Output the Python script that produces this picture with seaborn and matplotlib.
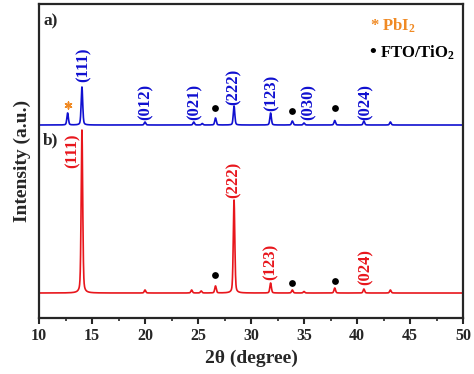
import numpy as np
import pandas as pd
import matplotlib
matplotlib.use('Agg')
import matplotlib.pyplot as plt
import seaborn as sns

# peak positions (2theta) and heights (arbitrary units)
red_pos = [14.05, 20.0, 24.4, 25.3, 26.65, 28.4, 31.85, 33.9, 35.0, 37.9, 40.65, 43.15]
red_height = [163, 3, 3, 2, 7, 93, 10, 3, 1.5, 5, 4, 3]

blue_pos = [12.7, 14.05, 20.0, 24.6, 25.4, 26.65, 28.4, 31.85, 33.9, 35.0, 37.9, 40.65, 43.15]
blue_height = [12, 38, 3, 3, 1.5, 7, 19, 12, 4, 2, 4.5, 4, 3]
blue_offset = 168

# hkl labels: (x, bottom of label)
blue_labels = ['(111)', '(012)', '(021)', '(222)', '(123)', '(030)', '(024)']
blue_label_x = [14.25, 20.05, 24.7, 28.4, 31.9, 35.4, 40.85]
blue_label_y = [211, 173, 173, 188, 182, 173, 173]

red_labels = ['(111)', '(222)', '(123)', '(024)']
red_label_x = [13.2, 28.35, 31.85, 40.85]
red_label_y = [125, 95, 13, 8]

# FTO/TiO2 dots
dot_x = [26.65, 33.9, 37.9, 26.65, 33.9, 37.9]
dot_y = [18, 10, 12, 185, 182, 185]

# PbI2 star
star_x = [12.7]
star_y = [188]

BLUE = '#1010d0'
RED = '#e8161c'
ORANGE = '#f08a24'


def profile(x, pos, height, fwhm=0.17, eta=0.35):
    # pseudo-Voigt peaks, mostly gaussian
    y = np.zeros_like(x)
    g = fwhm / 2
    sigma = fwhm / 2.3548
    for p, h in zip(pos, height):
        lor = g ** 2 / ((x - p) ** 2 + g ** 2)
        gau = np.exp(-(x - p) ** 2 / (2 * sigma ** 2))
        y += h * (eta * lor + (1 - eta) * gau)
    return y


two_theta = np.linspace(10, 50, 4001)
df = pd.concat([
    pd.DataFrame({'two_theta': two_theta,
                  'intensity': profile(two_theta, blue_pos, blue_height) + blue_offset,
                  'sample': 'a'}),
    pd.DataFrame({'two_theta': two_theta,
                  'intensity': profile(two_theta, red_pos, red_height),
                  'sample': 'b'}),
])

sns.set_style('ticks')
plt.rcParams['font.family'] = ['Liberation Serif', 'DejaVu Serif']
plt.rcParams['font.weight'] = 'bold'
plt.rcParams['mathtext.fontset'] = 'custom'
plt.rcParams['mathtext.rm'] = 'Liberation Serif'
plt.rcParams['mathtext.bf'] = 'Liberation Serif:bold'

fig = plt.figure(figsize=(4.74, 3.74), dpi=100)
ax = fig.add_axes([0.0823, 0.1497, 0.8945, 0.8396])

sns.lineplot(data=df, x='two_theta', y='intensity', hue='sample',
             palette={'a': BLUE, 'b': RED}, estimator=None, sort=False,
             linewidth=1.2, legend=False, ax=ax)
sns.scatterplot(x=dot_x, y=dot_y, color='black', s=24, linewidth=0, ax=ax)
sns.scatterplot(x=star_x, y=star_y, color=ORANGE, marker=(6, 2, 0), s=24,
                linewidth=1.1, ax=ax)

for lab, x, y in zip(blue_labels, blue_label_x, blue_label_y):
    ax.text(x, y, lab, rotation=90, ha='center', va='bottom', color=BLUE,
            fontsize=12, fontweight='bold')
for lab, x, y in zip(red_labels, red_label_x, red_label_y):
    ax.text(x, y, lab, rotation=90, ha='center', va='bottom', color=RED,
            fontsize=12, fontweight='bold')

ax.text(0.01, 0.97, 'a)', transform=ax.transAxes, ha='left', va='top',
        fontsize=12.5, fontweight='bold')
ax.text(0.01, 0.592, 'b)', transform=ax.transAxes, ha='left', va='top',
        fontsize=12.5, fontweight='bold')
ax.text(0.78, 0.93, r'* $\mathbf{PbI_2}$', transform=ax.transAxes,
        ha='left', va='center', color=ORANGE, fontsize=12, fontweight='bold')
ax.text(0.78, 0.845, '\u2022', transform=ax.transAxes,
        ha='left', va='center', color='black', fontsize=14, fontweight='bold')
ax.text(0.805, 0.845, r'$\mathbf{FTO/TiO_2}$', transform=ax.transAxes,
        ha='left', va='center', color='black', fontsize=12, fontweight='bold')

ax.set_xlim(10, 50)
ax.set_ylim(-25, 289)
ax.set_xticks(range(10, 51, 5))
ax.set_xticks(np.arange(12.5, 50, 5), minor=True)
ax.set_yticks([])
ax.tick_params(axis='x', which='major', direction='out', length=4, width=1.5,
               labelsize=11.5, pad=3)
ax.tick_params(axis='x', which='minor', direction='out', length=2.5, width=1.2)
for lbl in ax.get_xticklabels():
    lbl.set_fontweight('bold')
for sp in ax.spines.values():
    sp.set_visible(True)
    sp.set_linewidth(1.6)

ax.set_xlabel(r'2θ (degree)', fontsize=14, fontweight='bold', labelpad=4)
ax.set_ylabel('Intensity (a.u.)', fontsize=14, fontweight='bold', labelpad=6)

fig.savefig('out.png', dpi=100)
